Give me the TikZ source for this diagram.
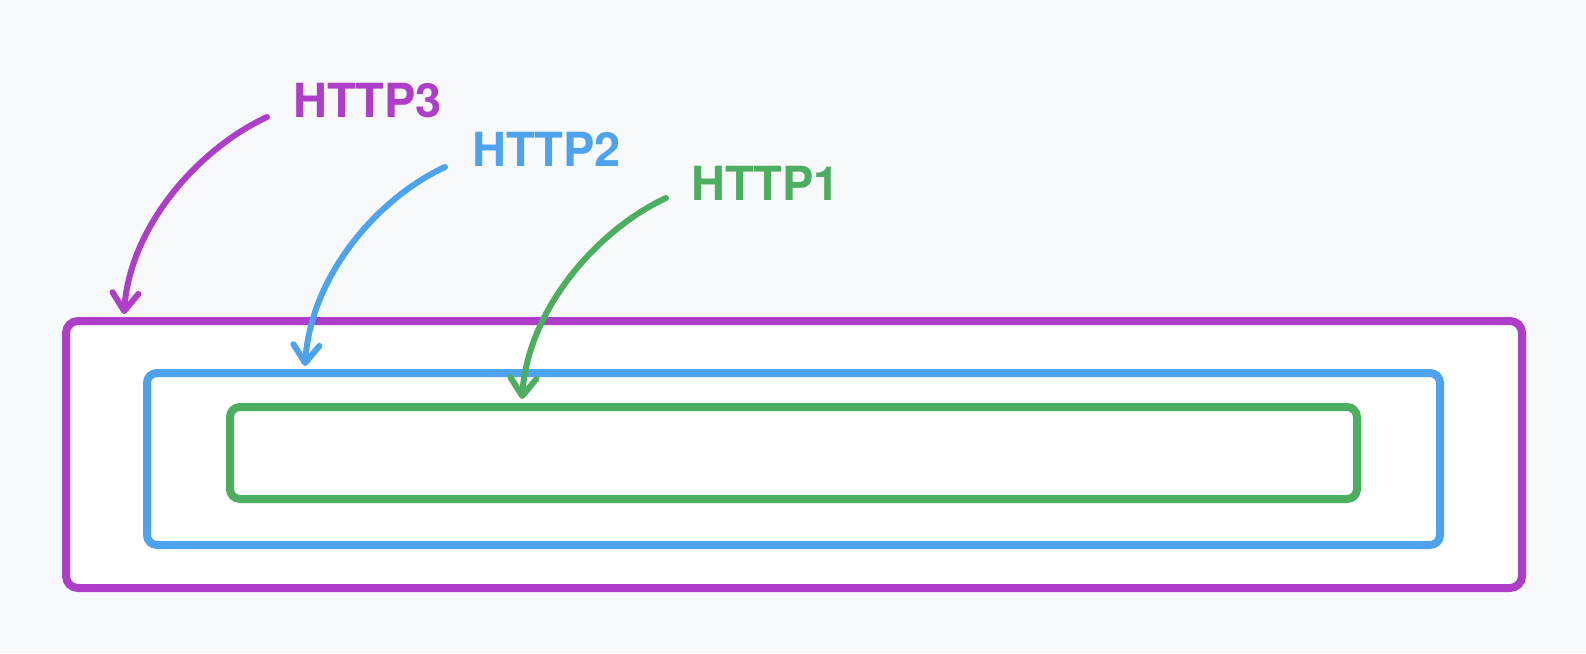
\documentclass[tikz,border=0pt]{standalone}
\usepackage{fontspec}
\setmainfont{TeX Gyre Heros}
\usetikzlibrary{arrows.meta}
\definecolor{bgc}{HTML}{F8F9FB}
\definecolor{grape}{HTML}{AE3EC9}
\definecolor{skyb}{HTML}{4DA3F0}
\definecolor{leaf}{HTML}{4CAF5F}
\tikzset{
  frame/.style={line width=8pt, fill=white, rounded corners=12pt, inner sep=0pt, outer sep=0pt},
  lbl/.style={anchor=base west, inner sep=0pt, font=\fontsize{47}{50}\selectfont\bfseries},
  pointer/.style={line width=6pt, line cap=round, line join=round, -{Straight Barb[length=18pt,width=26pt,round]}}
}
\begin{document}
\begin{tikzpicture}[x=1pt,y=-1pt]
\fill[bgc] (0,0) rectangle (1586,653);
\useasboundingbox (0,0) rectangle (1586,653);
\node[frame, draw=grape, minimum width=1456pt, minimum height=267pt] (r3) at (794,454.5) {};
\node[frame, draw=skyb, minimum width=1293pt, minimum height=172pt, rounded corners=10pt] (r2) at (793.5,459) {};
\node[frame, draw=leaf, minimum width=1127pt, minimum height=92pt, rounded corners=10pt] (r1) at (793.5,453) {};
\node[lbl, text=grape] (t3) at (293,117) {HTTP3};
\node[lbl, text=skyb] (t2) at (472,166) {HTTP2};
\node[lbl, text=leaf] (t1) at (691,200) {HTTP1};
\coordinate (s3) at (267,117);
\coordinate (e3) at (124,314);
\coordinate (s2) at (445,167);
\coordinate (e2) at (305,366);
\coordinate (s1) at (666,198);
\coordinate (e1) at (522,399);
\draw[pointer, grape] (s3) .. controls (200,148) and (130,225) .. (e3);
\draw[pointer, skyb] (s2) .. controls (378,198) and (311,275) .. (e2);
\draw[pointer, leaf] (s1) .. controls (599,229) and (528,308) .. (e1);
\end{tikzpicture}
\end{document}
